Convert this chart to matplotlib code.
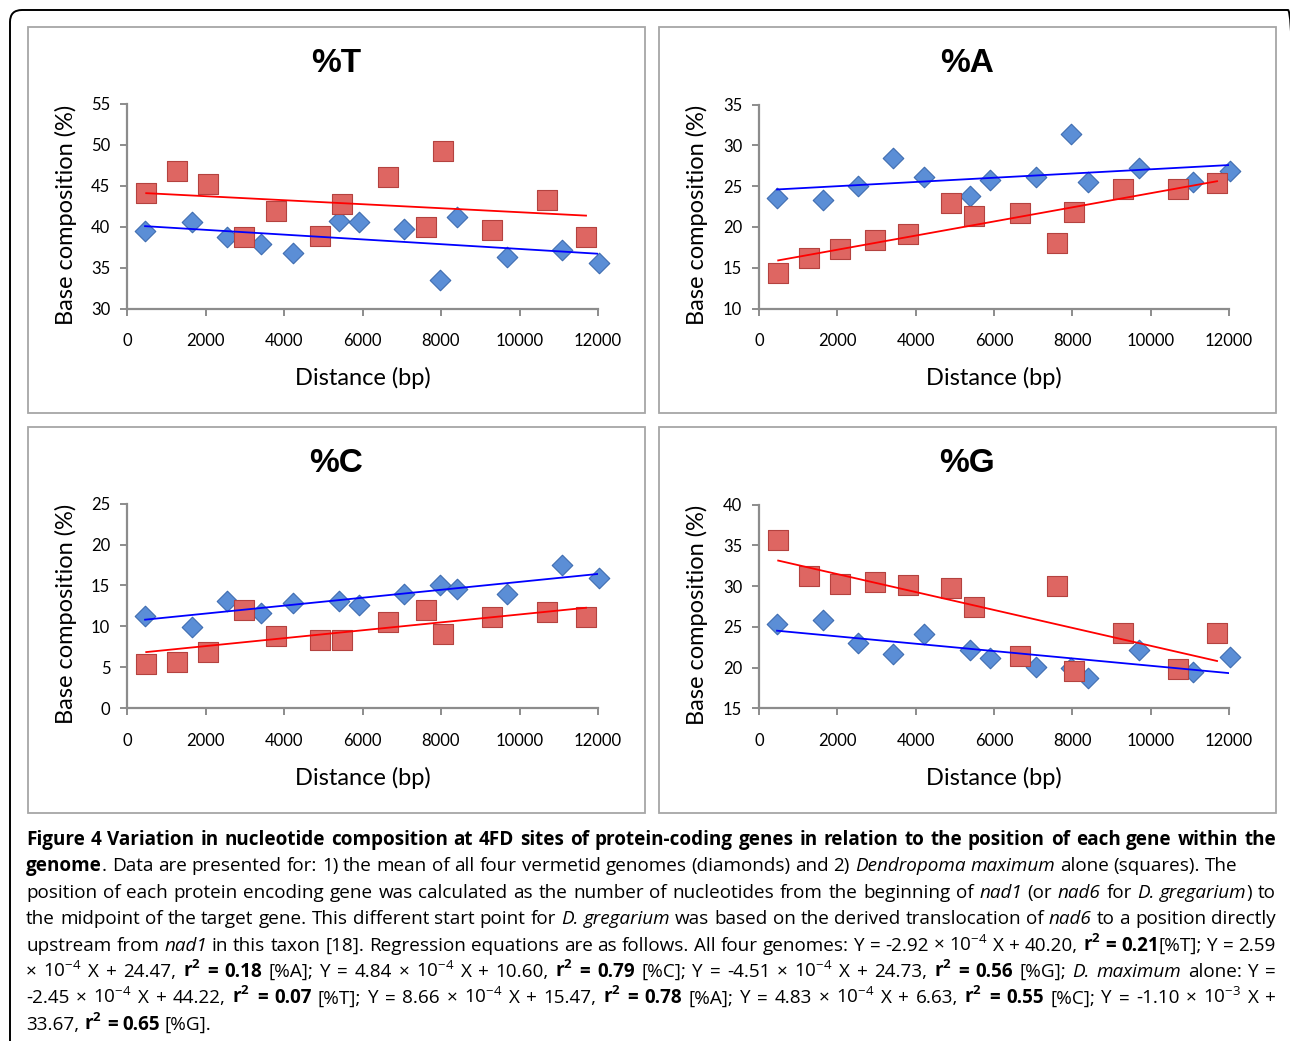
import re
import matplotlib
matplotlib.use("Agg")
import matplotlib.pyplot as plt
from matplotlib.patches import Rectangle, FancyBboxPatch

W, H = 1290, 1041

# posicao (bp) de cada gene: media dos 4 genomas (losangos) e D. maximum (quadrados)
x_todos = [460, 1645, 2540, 3415, 4220, 5390, 5900, 7060, 7970, 8410, 9690, 11080, 12030]
x_dmax = [490, 1270, 2060, 2970, 3800, 4910, 5490, 6660, 7615, 8040, 9290, 10700, 11695]

t_todos = [39.5, 40.6, 38.7, 37.9, 36.8, 40.65, 40.6, 39.75, 33.5, 41.2, 36.3, 37.1, 35.6]
t_dmax = [44.15, 46.8, 45.2, 38.7, 41.9, 38.9, 42.8, 46.05, 39.96, 49.2, 39.55, 43.3, 38.8]
a_todos = [23.6, 23.3, 25.0, 28.5, 26.1, 23.75, 25.7, 26.1, 31.4, 25.5, 27.2, 25.5, 26.9]
a_dmax = [14.3, 16.2, 17.3, 18.4, 19.1, 22.9, 21.3, 21.7, 18.0, 21.8, 24.65, 24.6, 25.4]
c_todos = [11.3, 9.96, 13.1, 11.7, 12.9, 13.1, 12.6, 13.9, 15.1, 14.6, 13.96, 17.55, 15.9]
c_dmax = [5.47, 5.6, 6.9, 12.0, 8.8, 8.4, 8.4, 10.5, 12.0, 9.06, 11.2, 11.8, 11.2]
g_todos = [25.3, 25.8, 22.96, 21.7, 24.1, 22.1, 21.2, 20.1, 20.0, 18.7, 22.1, 19.5, 21.3]
g_dmax = [35.7, 31.2, 30.3, 30.5, 30.1, 29.8, 27.4, 21.4, 30.0, 19.6, 24.3, 19.8, 24.3]

# regressoes (da legenda): T, A, C, G
incl_todos = [-2.92e-4, 2.59e-4, 4.84e-4, -4.51e-4]
icpt_todos = [40.20, 24.47, 10.60, 24.73]
incl_dmax = [-2.45e-4, 8.66e-4, 4.83e-4, -1.10e-3]
icpt_dmax = [44.22, 15.47, 6.63, 33.67]

titulos = ["%T", "%A", "%C", "%G"]
faixas_y = [(30, 55), (10, 35), (0, 25), (15, 40)]
xticks = [0, 2000, 4000, 6000, 8000, 10000, 12000]

FAM = ["Lato", "DejaVu Sans"]
FAM_LEG = ["Open Sans", "DejaVu Sans"]
CINZA = "#8C8C8C"

fig = plt.figure(figsize=(W / 100, H / 100), dpi=100)


def fx(px):
    return px / W


def fy(py):
    return 1 - py / H


# moldura externa arredondada
fig.add_artist(FancyBboxPatch((0.10, -0.5), 12.9, 10.81, boxstyle="round,pad=0,rounding_size=0.12",
                              transform=fig.dpi_scale_trans, fill=False, ec="black", lw=1.4))

# (caixa do painel, area dos eixos) em pixels: esq, topo, dir, base
caixas = [(28, 27, 645, 413), (659, 27, 1276, 413), (28, 427, 645, 813), (659, 427, 1276, 813)]
eixos = [(127, 104, 598, 308.5), (759, 104.5, 1229, 308.5), (127, 503.6, 598, 708.3), (759, 504.6, 1229, 708.3)]

dados_todos = [t_todos, a_todos, c_todos, g_todos]
dados_dmax = [t_dmax, a_dmax, c_dmax, g_dmax]

for i in range(4):
    cx0, cy0, cx1, cy1 = caixas[i]
    fig.add_artist(Rectangle((fx(cx0), fy(cy1)), fx(cx1 - cx0), (cy1 - cy0) / H,
                             transform=fig.transFigure, fill=False, ec="#A6A6A6", lw=1.3))
    fig.text(fx((cx0 + cx1) / 2), fy(cy0 + 36), titulos[i], ha="center", va="center",
             fontsize=24, fontweight="bold", family="Liberation Sans")

    l, t, r, b = eixos[i]
    ax = fig.add_axes([fx(l), fy(b), fx(r - l), (b - t) / H])
    lo, hi = faixas_y[i]

    ax.scatter(x_todos, dados_todos[i], marker="D", s=110, color="#5B8ED6",
               edgecolors="#3E6CB0", linewidths=0.8, zorder=3, clip_on=False)
    ax.scatter(x_dmax, dados_dmax[i], marker="s", s=190, color="#DE6662",
               edgecolors="#B4423F", linewidths=0.8, zorder=4, clip_on=False)

    xb = [x_todos[0], x_todos[-1]]
    ax.plot(xb, [incl_todos[i] * v + icpt_todos[i] for v in xb], color="#0000FF", lw=1.3, zorder=5)
    xr = [x_dmax[0], x_dmax[-1]]
    ax.plot(xr, [incl_dmax[i] * v + icpt_dmax[i] for v in xr], color="#FF0000", lw=1.3, zorder=5)

    ax.set_xlim(0, 12000)
    ax.set_ylim(lo, hi)
    ax.set_xticks(xticks)
    ax.set_yticks(list(range(lo, hi + 1, 5)))
    ax.set_xticklabels([str(v) for v in xticks])
    for s in ["top", "right"]:
        ax.spines[s].set_visible(False)
    for s in ["left", "bottom"]:
        ax.spines[s].set_color(CINZA)
        ax.spines[s].set_linewidth(1.6)
    ax.tick_params(axis="both", direction="out", length=5, width=1.4, color=CINZA, labelsize=12)
    ax.tick_params(axis="x", pad=13)
    ax.tick_params(axis="y", pad=7)
    for lab in ax.get_xticklabels() + ax.get_yticklabels():
        lab.set_family(FAM)
    ax.patch.set_alpha(0)

    ax.set_xlabel("Distance (bp)", fontsize=17, family=FAM, va="center")
    ax.xaxis.set_label_coords(0.5, -(cy0 + 351 - b) / (b - t))
    ax.set_ylabel("Base composition (%)", fontsize=17, family=FAM, va="center")
    ax.yaxis.set_label_coords(-(l - (cx0 + 38)) / (r - l), 0.46)

# ---- legenda da figura (texto justificado) ----
legenda = [
    (True, [("Figure 4 Variation in nucleotide composition at 4FD sites of protein-coding genes in relation to the position of each gene within the", "b")]),
    (False, [("genome", "b"), (". Data are presented for: 1) the mean of all four vermetid genomes (diamonds) and 2) ", "r"),
             ("Dendropoma maximum", "i"), (" alone (squares). The", "r")]),
    (True, [("position of each protein encoding gene was calculated as the number of nucleotides from the beginning of ", "r"),
            ("nad1", "i"), (" (or ", "r"), ("nad6", "i"), (" for ", "r"), ("D. gregarium", "i"), (") to", "r")]),
    (True, [("the midpoint of the target gene. This different start point for ", "r"), ("D. gregarium", "i"),
            (" was based on the derived translocation of ", "r"), ("nad6", "i"), (" to a position directly", "r")]),
    (True, [("upstream from ", "r"), ("nad1", "i"),
            (" in this taxon [18]. Regression equations are as follows. All four genomes: Y = -2.92 \u00d7 10^-4 X + 40.20, ", "r"),
            ("r^2 = 0.21", "b"), ("[%T]; Y = 2.59", "r")]),
    (True, [("\u00d7 10^-4 X + 24.47, ", "r"), ("r^2 = 0.18", "b"), (" [%A]; Y = 4.84 \u00d7 10^-4 X + 10.60, ", "r"),
            ("r^2 = 0.79", "b"), (" [%C]; Y = -4.51 \u00d7 10^-4 X + 24.73, ", "r"), ("r^2 = 0.56", "b"),
            (" [%G]; ", "r"), ("D. maximum", "i"), (" alone: Y =", "r")]),
    (True, [("-2.45 \u00d7 10^-4 X + 44.22, ", "r"), ("r^2 = 0.07", "b"), (" [%T]; Y = 8.66 \u00d7 10^-4 X + 15.47, ", "r"),
            ("r^2 = 0.78", "b"), (" [%A]; Y = 4.83 \u00d7 10^-4 X + 6.63, ", "r"), ("r^2 = 0.55", "b"),
            (" [%C]; Y = -1.10 \u00d7 10^-3 X +", "r")]),
    (False, [("33.67, ", "r"), ("r^2 = 0.65", "b"), (" [%G].", "r")]),
]

renderer = fig.canvas.get_renderer()
x_ini, x_fim = 26, 1276


def formata(p):
    return re.sub(r"(\w+)\^(-?\d+)", r"$\\mathregular{\1^{\2}}$", p)


def novo_texto(p, st, tam):
    return fig.text(0, 0, formata(p), fontsize=tam, family=FAM_LEG, va="baseline", ha="left",
                    fontweight="bold" if st == "b" else "normal",
                    fontstyle="italic" if st == "i" else "normal")


def palavras_de(segs):
    palavras = [[]]
    for txt, st in segs:
        partes = txt.split(" ")
        for j, p in enumerate(partes):
            if j > 0:
                palavras.append([])
            if p:
                palavras[-1].append((p, st))
    return [w for w in palavras if w]


def cria(palavras, tam):
    objs, larg = [], []
    for w in palavras:
        pecas = []
        for p, st in w:
            t = novo_texto(p, st, tam)
            pecas.append((t, t.get_window_extent(renderer).width))
        objs.append(pecas)
        larg.append(sum(wd for _, wd in pecas))
    return objs, larg


def largura_espaco(tam):
    a = novo_texto("n n", "r", tam)
    b2 = novo_texto("nn", "r", tam)
    e = a.get_window_extent(renderer).width - b2.get_window_extent(renderer).width
    a.remove()
    b2.remove()
    return e


# tamanho da fonte: a linha 2 (nao justificada) termina em ~1232 px na referencia
base = 12.0
pal2 = palavras_de(legenda[1][1])
objs2, larg2 = cria(pal2, base)
nat = sum(larg2) + largura_espaco(base) * (len(pal2) - 1)
for pecas in objs2:
    for t, _ in pecas:
        t.remove()
TAM = base * (1232 - x_ini) / nat
espaco = largura_espaco(TAM)

for k, (justif, segs) in enumerate(legenda):
    palavras = palavras_de(segs)
    objs, larg = cria(palavras, TAM)
    gap = espaco
    if justif and len(palavras) > 1:
        gap = (x_fim - x_ini - sum(larg)) / (len(palavras) - 1)
    y = fy(845 + 26.4 * k)
    x = x_ini
    for pecas, wl in zip(objs, larg):
        xx = x
        for t, wd in pecas:
            t.set_position((fx(xx), y))
            xx += wd
        x += wl + gap

fig.savefig("out.png", dpi=100)
